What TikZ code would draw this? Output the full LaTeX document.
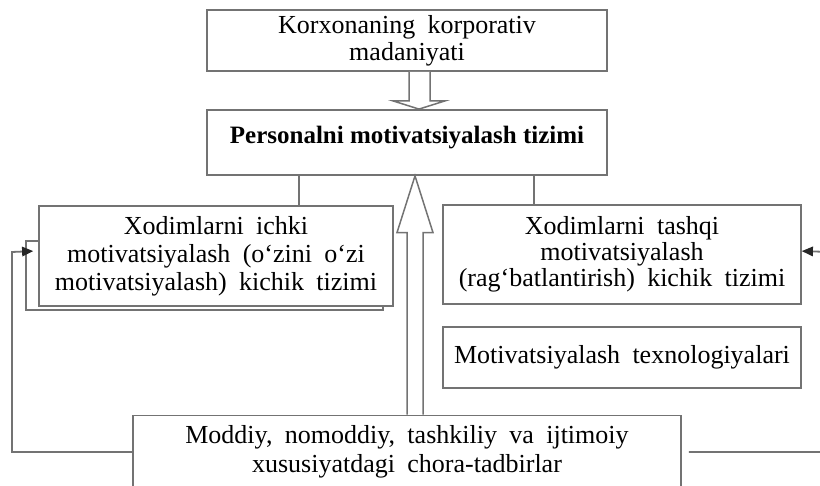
\documentclass[tikz,border=0pt]{standalone}
\usepackage{fontspec}
\setmainfont{Liberation Serif}[WordSpace=1.9]
\newfontfamily\headfont{Liberation Serif}
\usetikzlibrary{calc,arrows.meta}
\definecolor{linegray}{gray}{0.45}
\begin{document}
\begin{tikzpicture}[x=1pt,y=-1pt,
  box/.style={draw=linegray, line width=1.8pt, fill=white, inner sep=0pt,
    align=center, font=\fontsize{26}{27}\selectfont},
  link/.style={draw=linegray, line width=1.8pt},
  hollow/.style={draw=linegray, line width=1.5pt, fill=white, line join=miter},
  tip/.style={-{Triangle[length=11pt,width=10pt,line width=0pt,color=black!85]}}
]
\useasboundingbox (0,0) rectangle (820,486);
\clip (0,0) rectangle (820,486);

% boxes
\node[box, minimum width=400pt, minimum height=61pt] (culture) at (407,40.5)
  {Korxonaning korporativ\\madaniyati};
\node[box, minimum width=400pt, minimum height=65pt, text height=19pt, text depth=16pt]
  (system) at (407,142.5)
  {\headfont\bfseries\fontsize{25}{27}\selectfont Personalni motivatsiyalash tizimi};
\node[box, minimum width=354pt, minimum height=100pt, font=\fontsize{26}{28}\selectfont]
  (lbox) at (216,256)
  {Xodimlarni ichki\\motivatsiyalash (o‘zini o‘zi\\motivatsiyalash) kichik tizimi};
\node[box, minimum width=358pt, minimum height=99pt, font=\fontsize{26}{26}\selectfont]
  (rbox) at (622,254.5)
  {Xodimlarni tashqi\\motivatsiyalash\\(rag‘batlantirish) kichik tizimi};
\node[box, minimum width=358pt, minimum height=61pt] (tech) at (622,357.5)
  {Motivatsiyalash texnologiyalari};
\node[box, minimum width=548pt, minimum height=73pt, font=\fontsize{26}{29}\selectfont]
  (measures) at (407,452)
  {Moddiy, nomoddiy, tashkiliy va ijtimoiy\\xususiyatdagi chora-tadbirlar};

% second outline behind the inner subsystem box
\draw[link] ($(lbox.north west)+(0,36)$) -- ($(lbox.north west)+(-12,36)$)
  -- ($(lbox.south west)+(-12,3)$) -- ($(lbox.south east)+(-11,3)$)
  -- ($(lbox.south east)+(-11,0)$);

% links from the system box to both subsystems
\draw[link] ($(system.south west)+(93,0)$) -- ($(lbox.north west)+(261,0)$);
\draw[link] ($(system.south west)+(328,0)$) -- ($(rbox.north west)+(92,0)$);

% hollow arrow: culture -> system
\draw[hollow] ($(culture.south)+(2,0)$) -- ($(culture.south)+(2,29)$)
  -- ($(culture.south)+(-14,29)$) -- ($(system.north)+(12,0)$)
  -- ($(culture.south)+(38,29)$) -- ($(culture.south)+(23,29)$)
  -- ($(culture.south)+(23,0)$);

% hollow arrow: measures -> system
\draw[hollow] ($(measures.north)+(0,0)$) -- ($(measures.north)+(0,-182)$)
  -- ($(measures.north)+(-10,-182)$) -- ($(system.south)+(8,0)$)
  -- ($(measures.north)+(26,-182)$) -- ($(measures.north)+(16,-182)$)
  -- ($(measures.north)+(16,0)$);

% feedback loops
\draw[link, tip] (measures.west) -| (12,252) -- ($(lbox.north west)+(-5,46)$);
\draw[link, tip, shorten <=7pt] (measures.east) -| (830,252) -- ($(rbox.north east)+(0,47)$);
\end{tikzpicture}
\end{document}
